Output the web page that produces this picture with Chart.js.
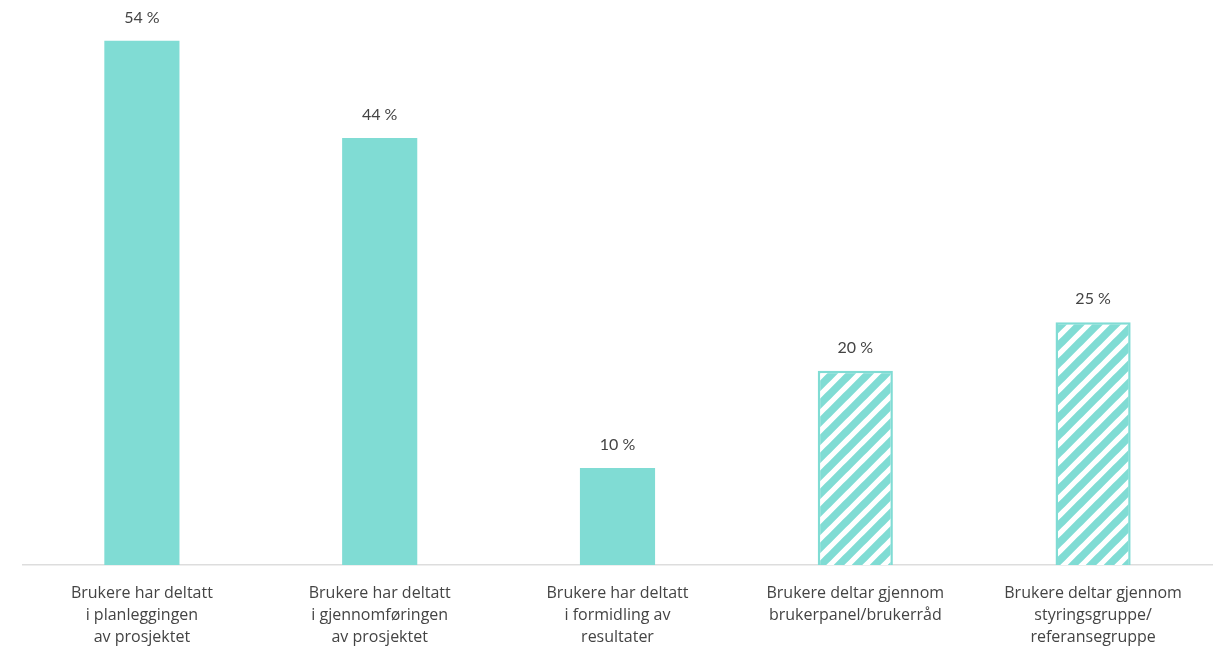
<!DOCTYPE html>
<html>
<head>
<meta charset="utf-8">
<script src="https://cdn.jsdelivr.net/npm/chart.js@4"></script>
<style>
  html, body { margin: 0; padding: 0; background: #fff; }
  #wrap { width: 1217px; height: 648px; position: relative; }
</style>
</head>
<body>
<div id="wrap"><canvas id="c"></canvas></div>
<script>
const categories = [
  ["Brukere har deltatt", "i planleggingen", "av prosjektet"],
  ["Brukere har deltatt", "i gjennomføringen", "av prosjektet"],
  ["Brukere har deltatt", "i formidling av", "resultater"],
  ["Brukere deltar gjennom", "brukerpanel/brukerråd"],
  ["Brukere deltar gjennom", "styringsgruppe/", "referansegruppe"]
];
const values = [54, 44, 10, 20, 25];
const hatched = [false, false, false, true, true];
const valueLabels = ["54 %", "44 %", "10 %", "20 %", "25 %"];

const TEAL = '#80dcd4';

function makeHatch() {
  const p = 18;
  const c = document.createElement('canvas');
  c.width = p; c.height = p;
  const g = c.getContext('2d');
  g.fillStyle = '#ffffff';
  g.fillRect(0, 0, p, p);
  g.strokeStyle = TEAL;
  g.lineWidth = 7.6;
  g.lineCap = 'square';
  g.beginPath();
  for (let k = -1; k <= 1; k++) {
    g.moveTo(k * p, p);
    g.lineTo(k * p + p, 0);
  }
  g.stroke();
  return g.createPattern(c, 'repeat');
}
const hatch = makeHatch();

const valueLabelPlugin = {
  id: 'valueLabels',
  afterDatasetsDraw(chart) {
    const ctx = chart.ctx;
    const meta = chart.getDatasetMeta(0);
    ctx.save();
    ctx.fillStyle = '#444444';
    ctx.font = '16px Lato';
    ctx.textAlign = 'center';
    ctx.textBaseline = 'alphabetic';
    meta.data.forEach((bar, i) => {
      ctx.fillText(valueLabels[i], bar.x, bar.y - 18);
    });
    ctx.restore();
  }
};

new Chart(document.getElementById('c'), {
  type: 'bar',
  data: {
    labels: categories,
    datasets: [{
      data: values,
      backgroundColor: hatched.map(h => h ? hatch : TEAL),
      borderColor: TEAL,
      borderWidth: hatched.map(h => h ? 2.5 : 0),
      barPercentage: 0.316,
      categoryPercentage: 1.0
    }]
  },
  options: {
    responsive: true,
    maintainAspectRatio: false,
    animation: false,
    layout: { padding: { left: 23, right: 5, top: 2, bottom: 0 } },
    plugins: { legend: { display: false }, tooltip: { enabled: false } },
    scales: {
      y: { display: false, min: 0, max: 58 },
      x: {
        grid: { display: false, drawTicks: false },
        border: { display: true, color: '#dddddd', width: 1.5 },
        ticks: {
          color: '#444444',
          font: { family: 'Open Sans', size: 16, lineHeight: 1.375 },
          padding: 17,
          maxRotation: 0,
          autoSkip: false
        },
        afterFit(scale) { scale.height = 83; }
      }
    }
  },
  plugins: [valueLabelPlugin]
});
</script>
</body>
</html>
